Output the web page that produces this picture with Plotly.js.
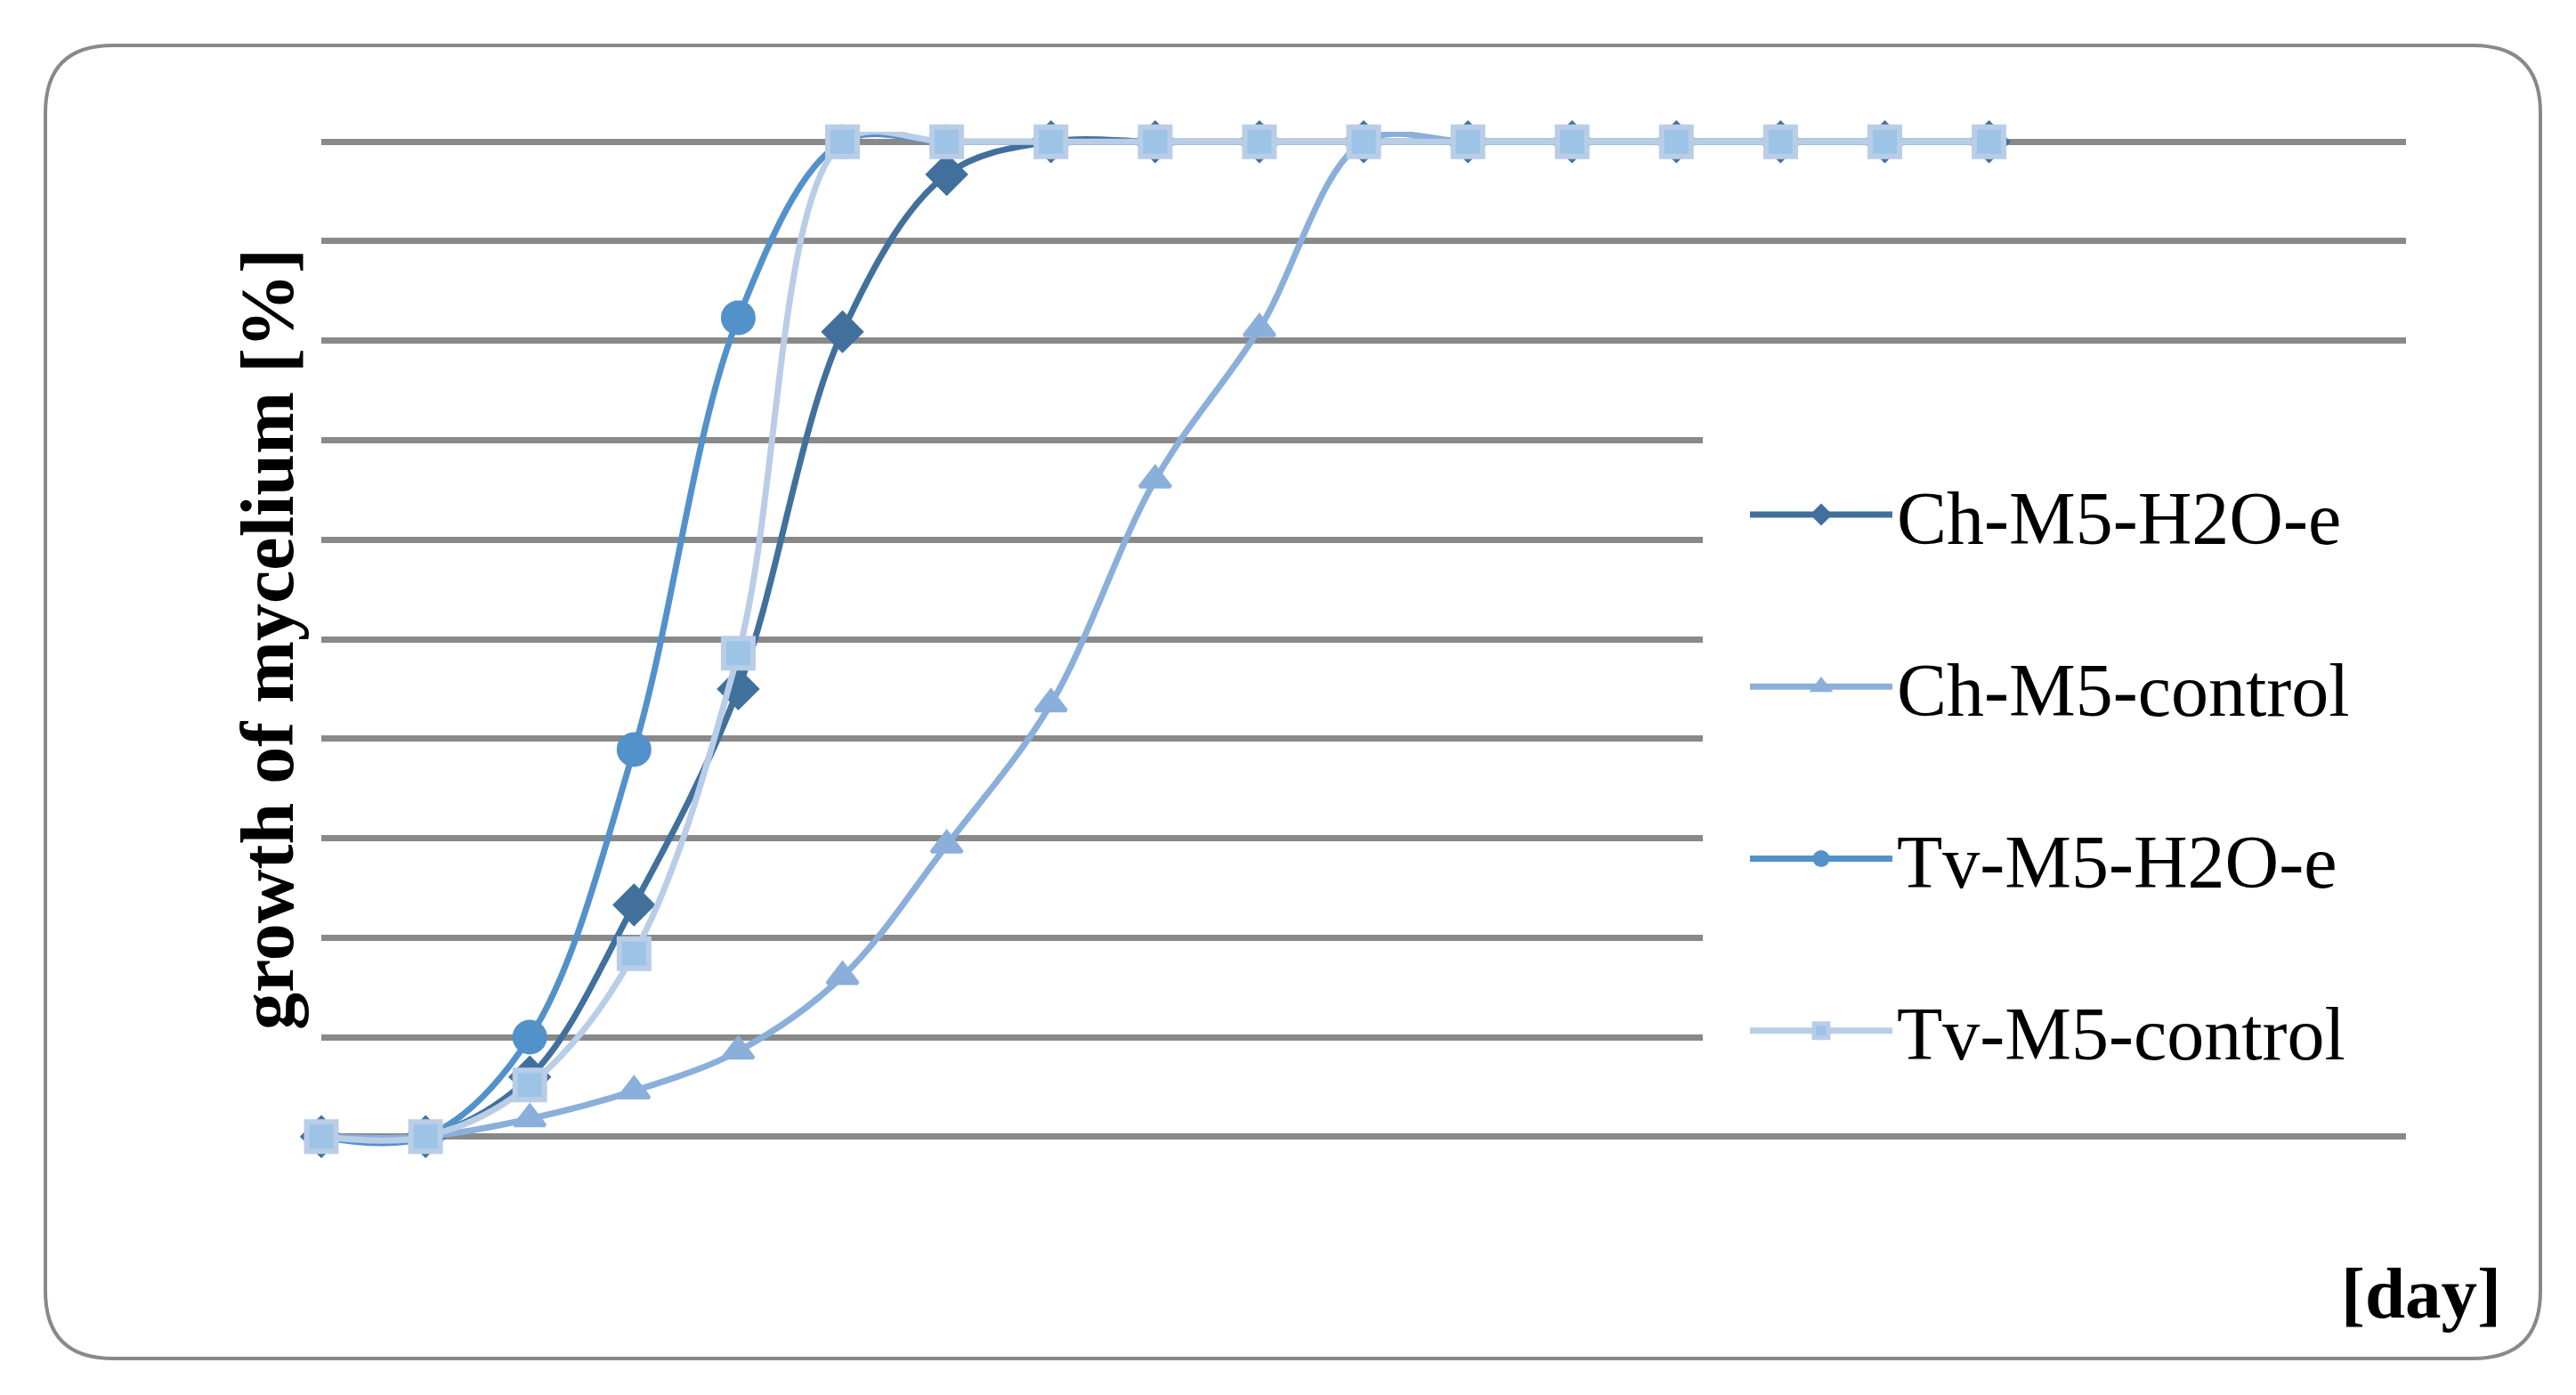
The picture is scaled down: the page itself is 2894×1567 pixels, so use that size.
<!DOCTYPE html>
<html>
<head>
<meta charset="utf-8">
<script src="https://cdn.plot.ly/plotly-3.0.1.min.js"></script>
<style>
  html, body { margin: 0; padding: 0; background: #ffffff; }
  #chart { width: 2894px; height: 1567px; }
</style>
</head>
<body>
<div id="chart"></div>
<script>
// days on the category axis (axis has room for 21 days, data for 17)
const days = [0, 1, 2, 3, 4, 5, 6, 7, 8, 9, 10, 11, 12, 13, 14, 15, 16];
const gridVals = [0, 10, 20, 30, 40, 50, 60, 70, 80, 90, 100];

// growth of mycelium [%]
const chH2O = [0, 0, 6, 23.3, 45, 80.9, 96.7, 100, 100, 100, 100, 100, 100, 100, 100, 100, 100];
const chControl = [0, 0, 1.8, 4.6, 8.6, 16.1, 29.3, 43.5, 66, 81.2, 100, 100, 100, 100, 100, 100, 100];
const tvH2O = [0, 0, 10, 38.9, 82.3, 100, 100, 100, 100, 100, 100, 100, 100, 100, 100, 100, 100];
const tvControl = [0, 0, 5.2, 18.4, 48.6, 100, 100, 100, 100, 100, 100, 100, 100, 100, 100, 100, 100];

const seriesNames = ['Ch-M5-H2O-e', 'Ch-M5-control', 'Tv-M5-H2O-e', 'Tv-M5-control'];

const W = 2894, H = 1567;
// y range is padded by one unit so the 0 and 100 grid lines get drawn
const M = { l: 361, r: 191, t: 148, b: 279 };
const PW = W - M.l - M.r, PH = H - M.t - M.b;

// pixel -> paper helpers, only used for the frame, legend and labels
const px = x => (x - M.l) / PW;
const py = y => (H - M.b - y) / PH;

function roundedFrame(x0, y0, x1, y1, r) {
    const rx = r / PW, ry = r / PH;
    const L = px(x0), R = px(x1), T = py(y0), B = py(y1);
    return `M${L + rx},${T} L${R - rx},${T} Q${R},${T} ${R},${T - ry} ` +
        `L${R},${B + ry} Q${R},${B} ${R - rx},${B} L${L + rx},${B} ` +
        `Q${L},${B} ${L},${B + ry} L${L},${T - ry} Q${L},${T} ${L + rx},${T} Z`;
}

const FONT = 'Liberation Serif, Times New Roman, serif';

function series(name, y, color, symbol, size, mColor, mLine, mLineW) {
    return {
        x: days, y: y, name: name, legendgroup: name,
        type: 'scatter', mode: 'lines+markers', cliponaxis: false,
        line: { color: color, width: 7, shape: 'spline', smoothing: 1 },
        marker: { symbol: symbol, size: size, color: mColor, line: { color: mLine, width: mLineW } }
    };
}

const traces = [
    series(seriesNames[0], chH2O, '#41709c', 'diamond', 34, '#41709c', '#41709c', 3),
    series(seriesNames[1], chControl, '#8aafda', 'triangle-up', 30, '#8aafda', '#8aafda', 4),
    series(seriesNames[2], tvH2O, '#5391cb', 'circle', 36, '#5391cb', '#5391cb', 3),
    series(seriesNames[3], tvControl, '#b9cde7', 'square', 33, '#9dc3e6', '#b9cde7', 6)
];

const layout = {
    width: W, height: H,
    margin: M,
    paper_bgcolor: '#ffffff', plot_bgcolor: '#ffffff',
    font: { family: FONT, color: '#000000' },
    showlegend: true,
    legend: {
        x: px(1961), xanchor: 'left',
        y: py(517), yanchor: 'top',
        bgcolor: 'rgba(0,0,0,0)', borderwidth: 0,
        font: { family: FONT, size: 84, color: '#000000' },
        traceorder: 'grouped', tracegroupgap: 81,
        itemwidth: 160
    },
    xaxis: {
        range: [0, 20], showgrid: false, zeroline: false, showline: false,
        showticklabels: false, ticks: ''
    },
    yaxis: {
        range: [-1, 101], tickvals: gridVals, showgrid: true, gridcolor: '#898989', gridwidth: 7,
        zeroline: false, showline: false, showticklabels: false, ticks: '',
        title: {
            text: 'growth of mycelium [%]', standoff: 2,
            font: { family: FONT, size: 84, weight: 'bold', color: '#000000' }
        }
    },
    annotations: [{
        text: '[day]', xref: 'paper', yref: 'paper',
        x: px(2812), xanchor: 'right', y: py(1453), yanchor: 'middle',
        showarrow: false,
        font: { family: FONT, size: 81, weight: 'bold', color: '#000000' }
    }],
    shapes: [
        // blank area behind the legend, the middle grid lines stop there
        { type: 'rect', xref: 'paper', yref: 'y', x0: px(1913), x1: 1.01, y0: 5, y1: 75,
          fillcolor: '#ffffff', line: { width: 0 }, layer: 'above' },
        // rounded chart frame
        { type: 'path', xref: 'paper', yref: 'paper', path: roundedFrame(51, 51, 2854, 1526, 76),
          line: { color: '#898989', width: 4 }, fillcolor: 'rgba(0,0,0,0)', layer: 'below' }
    ]
};

Plotly.newPlot('chart', traces, layout, { staticPlot: true, displayModeBar: false });
</script>
</body>
</html>
